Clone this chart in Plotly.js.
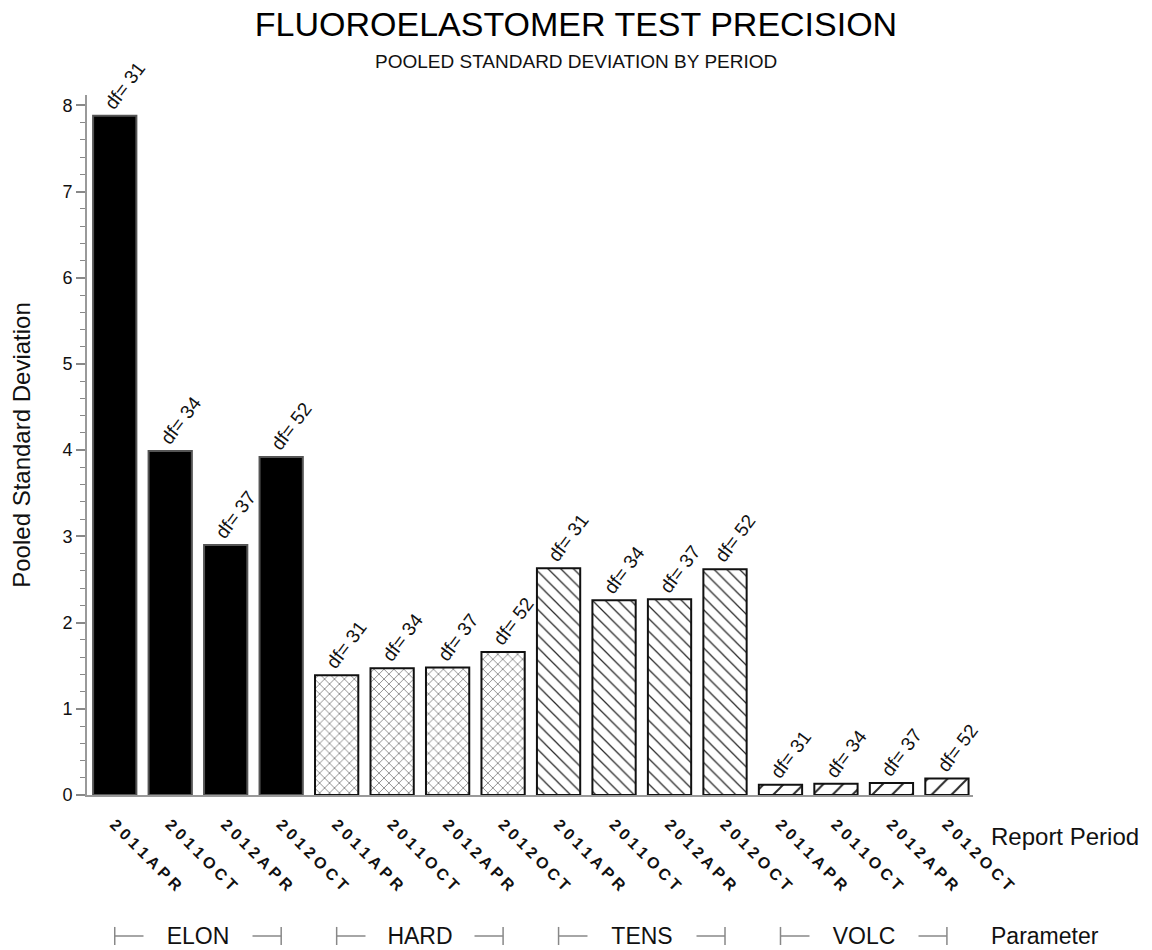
<!DOCTYPE html>
<html><head><meta charset="utf-8">
<script src="https://cdn.plot.ly/plotly-3.0.1.min.js"></script>
<style>html,body{margin:0;padding:0;background:#fff}#chart{width:1152px;height:950px}</style>
</head><body><div id="chart"></div>
<script>
const periods = ['2011APR','2011OCT','2012APR','2012OCT'];
const parameters = ['ELON','HARD','TENS','VOLC'];
const dfValues = [31, 34, 37, 52];
const elon = [7.88, 3.99, 2.90, 3.92];
const hard = [1.39, 1.47, 1.48, 1.66];
const tens = [2.63, 2.26, 2.27, 2.62];
const volc = [0.12, 0.13, 0.14, 0.19];
const seriesValues = [elon, hard, tens, volc];

const styles = [
  {color:'#000000', shape:'', size:8, line:'#555'},
  {color:'#333333', shape:'x', size:7, line:'#111'},
  {color:'#333333', shape:'\\', size:9, line:'#111'},
  {color:'#333333', shape:'/', size:14, line:'#111'}
];
const nPer = periods.length;
const FONT = 'Liberation Sans, Arial, Helvetica, sans-serif';

const traces = parameters.map((p, g) => {
  const marker = {color: styles[g].color, line: {color: styles[g].line, width: 2}};
  if (styles[g].shape) {
    marker.pattern = {shape: styles[g].shape, size: styles[g].size, solidity: 0.14,
      bgcolor: '#ffffff', fgcolor: '#2a2a2a', fillmode: 'replace'};
  }
  return {
    type: 'bar', name: p,
    x: periods.map((_, j) => g * nPer + j),
    y: seriesValues[g],
    width: 0.78,
    marker: marker,
    hovertemplate: p + ' %{y}<extra></extra>'
  };
});

const tickvals = [], ticktext = [];
parameters.forEach((p, g) => periods.forEach((per, j) => {
  tickvals.push(g * nPer + j);
  ticktext.push(per.split('').join('\u2005'));
}));

const annotations = [];
parameters.forEach((p, g) => periods.forEach((per, j) => {
  annotations.push({
    x: g * nPer + j, y: seriesValues[g][j], xref: 'x', yref: 'y',
    text: 'df= ' + dfValues[j], textangle: -53, showarrow: false,
    xanchor: 'left', yanchor: 'bottom', xshift: -17, yshift: 0,
    font: {family: FONT, size: 19, color: '#111'}
  });
}));

const groupY = -0.2014;
const shapes = [];
parameters.forEach((p, g) => {
  const x0 = g * nPer, x1 = g * nPer + nPer - 1;
  shapes.push({type:'line', xref:'x', yref:'paper', x0:x0, x1:x1, y0:groupY, y1:groupY, line:{color:'#888', width:1.5}});
  shapes.push({type:'line', xref:'x', yref:'paper', x0:x0, x1:x0, y0:groupY-0.0129, y1:groupY+0.0129, line:{color:'#888', width:1.5}});
  shapes.push({type:'line', xref:'x', yref:'paper', x0:x1, x1:x1, y0:groupY-0.0129, y1:groupY+0.0129, line:{color:'#888', width:1.5}});
  annotations.push({
    x: g * nPer + (nPer - 1) / 2, y: groupY, xref:'x', yref:'paper', text: p,
    showarrow:false, xanchor:'center', yanchor:'middle', bgcolor:'#ffffff', borderpad: 4,
    width: 100, font:{family: FONT, size: 23, color:'#111'}
  });
});
annotations.push({x: 1.018, y: -0.0586, xref:'paper', yref:'paper', text:'Report Period', showarrow:false,
  xanchor:'left', yanchor:'middle', font:{family: FONT, size: 24, color:'#111'}});
annotations.push({x: 1.018, y: groupY, xref:'paper', yref:'paper', text:'Parameter', showarrow:false,
  xanchor:'left', yanchor:'middle', font:{family: FONT, size: 23, color:'#111'}});
annotations.push({x: (576 - 87) / 886, xref:'paper', y: (795 - 62) / 700, yref:'paper', text:'POOLED STANDARD DEVIATION BY PERIOD',
  showarrow:false, xanchor:'center', yanchor:'middle', font:{family: FONT, size: 19, color:'#111'}});

const layout = {
  width: 1152, height: 950,
  paper_bgcolor: '#fff', plot_bgcolor: '#fff',
  font: {family: FONT, color: '#111'},
  showlegend: false,
  barmode: 'overlay',
  margin: {l: 87, r: 179, t: 95, b: 155},
  title: {
    text: 'FLUOROELASTOMER TEST PRECISION',
    font: {family: FONT, size: 34, color: '#000'},
    x: 0.5, xref: 'container', y: 1 - 12/950, yref: 'container', yanchor: 'top'
  },
  xaxis: {
    range: [-0.5, 15.47], tickmode: 'array', tickvals: tickvals, ticktext: ticktext,
    tickangle: 45, ticks: 'outside', ticklen: 12, tickcolor: 'rgba(0,0,0,0)',
    showline: true, linecolor: '#999', linewidth: 2, showgrid: false, zeroline: false,
    tickfont: {family: FONT, size: 16, color: '#111', weight: 'bold'}, fixedrange: true
  },
  yaxis: {
    range: [0, 8.12], dtick: 1, tick0: 0, ticks: 'outside', ticklen: 9, tickcolor: '#888', tickwidth: 1.5,
    minor: {dtick: 0.2, ticks: 'outside', ticklen: 5, tickcolor: '#888', tickwidth: 1.2},
    showline: true, linecolor: '#999', linewidth: 2, showgrid: false, zeroline: false,
    tickfont: {family: FONT, size: 18, color: '#111'},
    title: {text: 'Pooled Standard Deviation', font: {family: FONT, size: 24, color: '#111'}, standoff: 25},
    fixedrange: true
  },
  shapes: shapes,
  annotations: annotations
};

Plotly.newPlot('chart', traces, layout, {displayModeBar: false});
</script>
</body></html>
